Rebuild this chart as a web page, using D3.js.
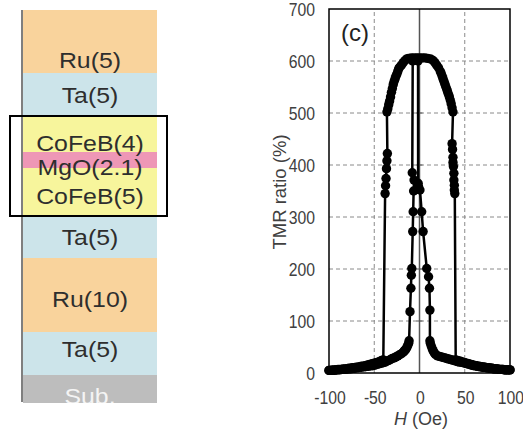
<!DOCTYPE html>
<html><head><meta charset="utf-8">
<script src="https://cdn.jsdelivr.net/npm/d3@7"></script>
<style>html,body{margin:0;padding:0;background:#fff;}svg{display:block;}</style>
</head><body>
<svg id="c" width="523" height="438"></svg>
<script>
// ---------- data ----------
const layerLabels = ["Ru(5)","Ta(5)","CoFeB(4)","MgO(2.1)","CoFeB(5)","Ta(5)","Ru(10)","Ta(5)","Sub."];
const layerMaterials = ["Ru","Ta","CoFeB","MgO","CoFeB","Ta","Ru","Ta","Sub"];

const xTicks = [-100,-50,0,50,100];
const yTicks = [0,100,200,300,400,500,600,700];

// sweep with increasing field
const upH = [-100,-98,-96,-94,-92,-90,-88,-86,-84,-82,-80,-78,-76,-74,-72,-70,-68,-66,-64,-62,-60,-58,-56,-54,-52,-50,-48,-46,-44,-42,-40,-38,-36,-34,-32,-30,-28,-26,-24,-22,-20,-18,-17,-16,-15,-14,-13,-12,-11.5,
  -10.5,-9.5,-9,-8.5,-7.5,-7,-6.5,-6,-8,-7.5,
  -6,-3,0,3,6,9,12,15,17,19,21,23,24,25,26,27,28,29,30,31,32,33,34,35,36,37,
  36,36.5,37,37,37.5,38,38,38.5,38.5,39,
  40,42,44,46,48,50,52,54,56,58,60,62,64,66,68,70,72,74,76,78,80,82,84,86,88,90,92,94,96,98,100];
const upTMR = [5,5,5,5,6,6,6,7,7,7,8,8,8,9,9,10,10,11,11,12,12,13,13,14,14,15,16,17,18,19,20,21,23,24,26,28,29,31,33,35,37,40,42,44,46,49,53,57,62,
  118,163,188,201,272,310,350,371,385,600,
  604,606,606,606,606,605,604,601,597,592,587,580,576,571,566,561,556,551,546,541,536,531,525,518,510,502,
  441,430,415,405,397,384,371,361,352,345,
  25,24,23,22,21,20,19,18,17,16,15,14,13,13,12,11,11,10,10,9,9,8,8,8,7,7,7,6,6,6,6];

// sweep with decreasing field
const downH = [100,98,96,94,92,90,88,86,84,82,80,78,76,74,72,70,68,66,64,62,60,58,56,54,52,50,48,46,44,42,40,38,36,34,32,30,28,26,24,22,20,18,17,16,15,14,13,12,11.5,
  11.5,11,10,8,4,2.4,0.5,-1,-1.5,-1.6,
  -3,-6,-9,-12,-14,-16,-18,-20,-22,-23,-24,-25,-26,-27,-28,-29,-30,-31,-32,-33,-34,-35,-36,
  -35.5,-36,-36.5,-37,-37.5,-38,
  -40,-42,-44,-46,-48,-50,-52,-54,-56,-58,-60,-62,-64,-66,-68,-70,-72,-74,-76,-78,-80,-82,-84,-86,-88,-90,-92,-94,-96,-98,-100];
const downTMR = [6,6,6,6,7,7,7,8,8,8,9,9,10,10,11,11,12,12,13,14,14,15,16,17,18,19,20,21,21,22,23,24,25,26,27,28,29,30,31,32,33,35,37,40,43,47,52,57,62,
  121,163,185,201,272,310,352,358,365,600,
  605,606,606,605,604,601,597,592,588,585,580,575,571,566,561,555,547,540,531,523,516,508,502,
  422,408,393,374,360,345,
  25,24,22,21,20,19,18,17,16,15,14,13,13,12,11,11,10,10,9,9,8,8,8,7,7,7,6,6,6,5,5];

// ---------- drawing ----------
const svg = d3.select("#c");
const font = "'Liberation Sans', Arial, sans-serif";

// left: layer stack
const matColor = d3.scaleOrdinal()
  .domain(["Ru","Ta","CoFeB","MgO","Sub"])
  .range(["#F9D39C","#CCE4EA","#F7F59C","#EE97B6","#BDBDBD"]);
const layerEdges = [10,73,117,152,168,217,258,332,375,403];
const labelCenters = [61,96,144,168,197,238,300,350,397];
const stack = svg.append("g");
const defs = svg.append("defs");
defs.append("clipPath").attr("id","stackclip").append("rect")
  .attr("x",0).attr("y",0).attr("width",200).attr("height",403);
stack.selectAll("rect.layer").data(layerLabels).join("rect")
  .attr("class","layer")
  .attr("x",23).attr("width",134)
  .attr("y",(d,i)=>layerEdges[i])
  .attr("height",(d,i)=>layerEdges[i+1]-layerEdges[i])
  .attr("fill",(d,i)=>matColor(layerMaterials[i]));
stack.append("line").attr("x1",22).attr("x2",22).attr("y1",10).attr("y2",402)
  .attr("stroke","#555").attr("stroke-width",1.5);
stack.append("g").attr("clip-path","url(#stackclip)")
  .selectAll("text").data(layerLabels).join("text")
  .attr("transform",(d,i)=>`translate(90,${labelCenters[i]}) scale(1.13,1)`)
  .attr("text-anchor","middle").attr("dominant-baseline","central")
  .attr("font-family",font).attr("font-size",22)
  .attr("fill",(d,i)=>layerMaterials[i]==="Sub"?"#f4f4f4":"#2e2e2e")
  .text(d=>d);
stack.append("rect").attr("x",10).attr("y",116).attr("width",157).attr("height",100)
  .attr("fill","none").attr("stroke","#000").attr("stroke-width",2);

// right: TMR chart
const x = d3.scaleLinear().domain([-100,100]).range([329,510]);
const y = d3.scaleLinear().domain([0,700]).range([373,9]);
const g = svg.append("g");

// grid
g.append("g").selectAll("line").data(yTicks.filter(v=>v>0&&v<700)).join("line")
  .attr("x1",x(-100)).attr("x2",x(100)).attr("y1",d=>y(d)).attr("y2",d=>y(d))
  .attr("stroke","#8a8a8a").attr("stroke-width",1).attr("stroke-dasharray","4,3");
g.append("g").selectAll("line").data(xTicks.filter(v=>v!==0&&Math.abs(v)<100)).join("line")
  .attr("y1",y(0)).attr("y2",y(700)).attr("x1",d=>x(d)).attr("x2",d=>x(d))
  .attr("stroke","#8a8a8a").attr("stroke-width",1).attr("stroke-dasharray","4,3");
// zero axis line
g.append("line").attr("x1",x(0)).attr("x2",x(0)).attr("y1",y(0)).attr("y2",y(700))
  .attr("stroke","#555").attr("stroke-width",1.5);
g.append("g").selectAll("line").data(yTicks.filter(v=>v>0&&v<700)).join("line")
  .attr("x1",x(0)-3).attr("x2",x(0)+3).attr("y1",d=>y(d)).attr("y2",d=>y(d))
  .attr("stroke","#555").attr("stroke-width",1);

// axes labels via d3 axes
const yAxis = g.append("g").attr("transform",`translate(${x(-100)},0)`)
  .call(d3.axisLeft(y).tickValues(yTicks).tickSize(0).tickFormat(d=>String(d)));
yAxis.select(".domain").remove();
yAxis.selectAll("text").attr("font-family",font).attr("font-size",17.5).attr("fill","#404040")
  .attr("x",-14/0.9).attr("dy","0.35em").attr("transform","scale(0.9,1)");
const xAxis = g.append("g").attr("transform",`translate(0,${y(0)})`)
  .call(d3.axisBottom(x).tickValues(xTicks).tickSize(0).tickFormat(d=>String(d)));
xAxis.select(".domain").remove();
xAxis.selectAll("text").attr("font-family",font).attr("font-size",17.5).attr("fill","#404040")
  .attr("y",25).attr("dy","0.35em").attr("transform","scale(0.9,1)");
xAxis.selectAll(".tick").attr("transform",d=>`translate(${x(d)+1},0)`);

// series
const line = d3.line().x(d=>x(d[0])).y(d=>y(d[1]));
const series = [d3.zip(upH,upTMR), d3.zip(downH,downTMR)];
series.forEach(s=>{
  g.append("path").datum(s).attr("d",line).attr("fill","none")
    .attr("stroke","#000").attr("stroke-width",2.5).attr("stroke-linejoin","round");
});
series.forEach(s=>{
  g.append("g").selectAll("circle").data(s).join("circle")
    .attr("cx",d=>x(d[0])).attr("cy",d=>y(d[1])).attr("r",4.7).attr("fill","#000");
});

// frame
g.append("rect").attr("x",x(-100)).attr("y",y(700))
  .attr("width",x(100)-x(-100)).attr("height",y(0)-y(700))
  .attr("fill","none").attr("stroke","#000").attr("stroke-width",1.5);

// titles
g.append("text").attr("x",355).attr("y",32).attr("text-anchor","middle")
  .attr("dominant-baseline","central").attr("font-family",font).attr("font-size",24)
  .attr("fill","#222").text("(c)");
g.append("text").attr("transform","translate(279,192) rotate(-90)")
  .attr("text-anchor","middle").attr("dominant-baseline","central")
  .attr("font-family",font).attr("font-size",18.5).attr("fill","#404040")
  .text("TMR ratio (%)");
const xt = g.append("text").attr("x",421).attr("y",419).attr("text-anchor","middle")
  .attr("dominant-baseline","central").attr("font-family",font).attr("font-size",18)
  .attr("fill","#404040");
xt.append("tspan").attr("font-style","italic").text("H");
xt.append("tspan").text(" (Oe)");
</script>
</body></html>
